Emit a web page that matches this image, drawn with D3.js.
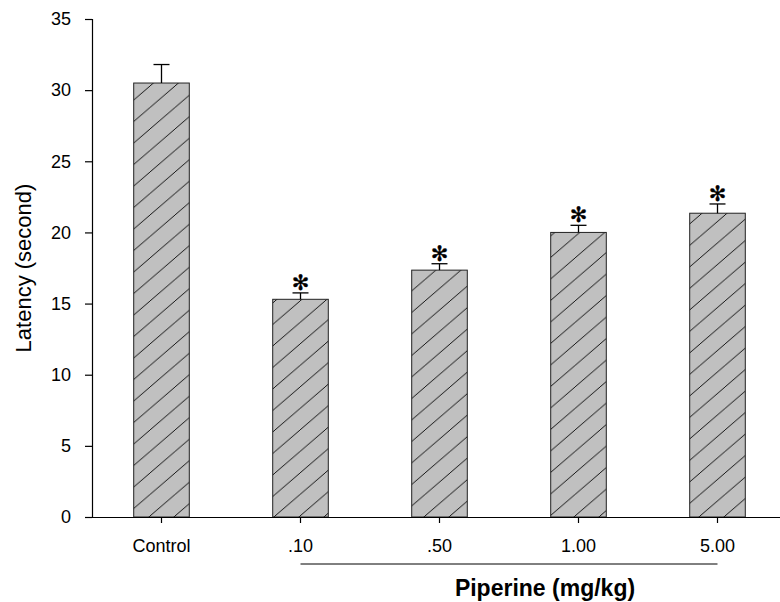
<!DOCTYPE html>
<html>
<head>
<meta charset="utf-8">
<script src="https://cdn.jsdelivr.net/npm/d3@7"></script>
<style>
  html, body { margin: 0; padding: 0; background: #fff; }
  svg { display: block; font-family: "Liberation Sans", Arial, sans-serif; }
</style>
</head>
<body>
<svg id="chart" width="780" height="602"></svg>
<script>
// Latency per treatment group (mean with upper SE bar)
const groups = ["Control", ".10", ".50", "1.00", "5.00"];
const latency = [30.5, 15.3, 17.35, 20.0, 21.35];
const stdErr = [1.3, 0.45, 0.45, 0.5, 0.65];
const significant = [false, true, true, true, true];
const yTicks = [0, 5, 10, 15, 20, 25, 30, 35];
const doseGroups = [".10", ".50", "1.00", "5.00"];

const svg = d3.select("#chart");

const x = d3.scaleBand()
  .domain(groups)
  .range([92, 787])
  .paddingInner(0.6)
  .paddingOuter(0.3);

const y = d3.scaleLinear()
  .domain([0, 35])
  .range([517, 19]);

// Diagonal hatch fill
const hw = 25, hh = 21.5;
const defs = svg.append("defs");
const pat = defs.append("pattern")
  .attr("id", "hatch")
  .attr("patternUnits", "userSpaceOnUse")
  .attr("width", hw)
  .attr("height", hh);
pat.append("rect")
  .attr("width", hw).attr("height", hh)
  .attr("fill", "#c0c0c0");
pat.append("line")
  .attr("x1", -1).attr("y1", hh + hh / hw)
  .attr("x2", hw + 1).attr("y2", -hh / hw)
  .attr("stroke", "#000").attr("stroke-width", 0.9);

// Bars
svg.append("g")
  .selectAll("rect")
  .data(groups)
  .join("rect")
  .attr("x", d => x(d))
  .attr("y", (d, i) => y(latency[i]))
  .attr("width", x.bandwidth())
  .attr("height", (d, i) => y(0) - y(latency[i]))
  .attr("fill", "url(#hatch)")
  .attr("stroke", "#222")
  .attr("stroke-width", 1);

// Upper error bars
const err = svg.append("g").attr("stroke", "#000").attr("stroke-width", 1.3);
groups.forEach((g, i) => {
  const cx = x(g) + x.bandwidth() / 2;
  err.append("line")
    .attr("x1", cx).attr("x2", cx)
    .attr("y1", y(latency[i])).attr("y2", y(latency[i] + stdErr[i]));
  err.append("line")
    .attr("x1", cx - 8).attr("x2", cx + 8)
    .attr("y1", y(latency[i] + stdErr[i])).attr("y2", y(latency[i] + stdErr[i]));
});

// Significance markers
svg.append("g")
  .selectAll("text")
  .data(groups.filter((g, i) => significant[i]))
  .join("text")
  .attr("x", d => x(d) + x.bandwidth() / 2)
  .attr("y", d => {
    const i = groups.indexOf(d);
    return y(latency[i] + stdErr[i]) - 10;
  })
  .attr("text-anchor", "middle")
  .attr("dominant-baseline", "central")
  .attr("font-family", "DejaVu Sans")
  .attr("font-size", 21)
  .attr("fill", "#000")
  .attr("stroke", "#000")
  .attr("stroke-width", 0.4)
  .text("\u273B");

// Axes
const yAxis = svg.append("g")
  .attr("transform", "translate(92,0)")
  .call(d3.axisLeft(y).tickValues(yTicks).tickSize(7).tickSizeOuter(7).tickPadding(14));

const xAxis = svg.append("g")
  .attr("transform", "translate(0,517)")
  .call(d3.axisBottom(x).tickSize(6).tickSizeOuter(0).tickPadding(16));

[yAxis, xAxis].forEach(a => {
  a.selectAll("path, line").attr("stroke", "#000").attr("stroke-width", 1.2);
  a.selectAll("text")
    .attr("font-family", "Liberation Sans, Arial, sans-serif")
    .attr("font-size", 18)
    .attr("fill", "#000");
});

// Y axis title
svg.append("text")
  .attr("transform", "translate(31,268) rotate(-90)")
  .attr("text-anchor", "middle")
  .attr("font-size", 22)
  .attr("fill", "#000")
  .text("Latency (second)");

// Dose bracket and title
svg.append("line")
  .attr("x1", x(doseGroups[0]) + x.bandwidth() / 2)
  .attr("x2", x(doseGroups[doseGroups.length - 1]) + x.bandwidth() / 2)
  .attr("y1", 564).attr("y2", 564)
  .attr("stroke", "#000").attr("stroke-width", 1);

svg.append("text")
  .attr("x", 545)
  .attr("y", 596)
  .attr("text-anchor", "middle")
  .attr("font-size", 23)
  .attr("font-weight", "bold")
  .attr("fill", "#000")
  .text("Piperine (mg/kg)");
</script>
</body>
</html>
